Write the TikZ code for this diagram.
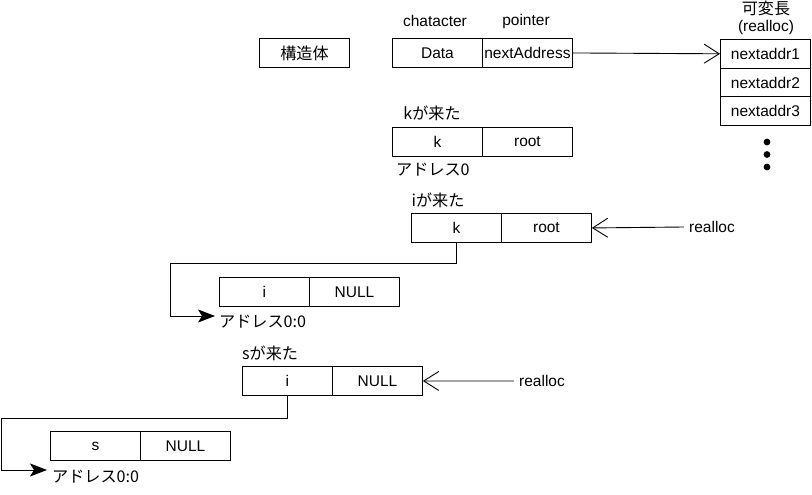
\documentclass[tikz,border=0pt]{standalone}
\usepackage{fontspec}
\setmainfont{Liberation Sans}
\newfontfamily\jp{Noto Sans CJK JP}[Scale=1.04]
\usetikzlibrary{arrows.meta}
\begin{document}
\begin{tikzpicture}[x=1pt,y=-1pt,
  font=\fontsize{15.5}{18}\selectfont,
  cell/.style={draw, line width=0.9pt, minimum width=90pt, minimum height=29pt, inner sep=0pt, anchor=north west},
  tcell/.style={cell, minimum height=28.7pt},
  lbl/.style={inner sep=0pt},
  openarrow/.style={line width=0.9pt, -{Straight Barb[length=15pt,width=19pt]}},
  filledarrow/.style={line width=0.9pt, -{Stealth[length=17pt,width=13pt,inset=4pt]}},
  elbow/.style={line width=0.9pt}
]
\useasboundingbox (0,0) rectangle (812,495);

% header
\node[cell] (s0) at (259,38) {\jp 構造体};
\node[cell] (d0) at (392,38) {Data};
\node[cell] (p0) at (482,38) {nextAddress};
\node[lbl] (lc) at (435,21) {chatacter};
\node[lbl] (lp) at (526,21) {pointer};

% variable-length array
\node[lbl, align=center] (vl) at (766,18) {\jp 可変長\\[-1pt](realloc)};
\node[tcell] (n1) at (720,39) {nextaddr1};
\node[tcell] (n2) at (720,67.7) {nextaddr2};
\node[tcell] (n3) at (720,96.4) {nextaddr3};
\fill (767,142) circle (3.4pt);
\fill (767,154.5) circle (3.4pt);
\fill (767,167) circle (3.4pt);
\draw[openarrow] (p0.east) -- (n1.west);

% k came
\node[lbl] (tk) at (432,113) {\jp kが来た};
\node[cell] (kc) at (392,127) {k};
\node[cell] (kr) at (482,127) {root};
\node[lbl, anchor=west] (ka) at (396,170) {\jp アドレス0};

% i came
\node[lbl] (ti) at (438,200) {\jp iが来た};
\node[cell] (ic) at (411,213) {k};
\node[cell] (ir) at (501,213) {root};
\node[lbl, anchor=west] (r1) at (689,227) {realloc};
\draw[openarrow] ([xshift=-5pt]r1.west) -- (ir.east);
\node[cell] (inc) at (219,277) {i};
\node[cell] (inn) at (309,277) {NULL};
\node[lbl, anchor=west] (a1) at (219,322) {\jp アドレス0:0};
\coordinate (e1) at (215,316);
\draw[filledarrow] (ic.south) |- (170,263) |- (e1);

% s came
\node[lbl, anchor=west] (ts) at (242,353) {\jp sが来た};
\node[cell] (sc) at (242,366) {i};
\node[cell] (sn) at (332,366) {NULL};
\node[lbl, anchor=west] (r2) at (519,381) {realloc};
\draw[openarrow] ([xshift=-5pt]r2.west) -- (sn.east);
\node[cell] (ssc) at (50,431) {s};
\node[cell] (ssn) at (140,431) {NULL};
\node[lbl, anchor=west] (a2) at (52,477) {\jp アドレス0:0};
\coordinate (e2) at (47,470);
\draw[filledarrow] (sc.south) |- (1,418) |- (e2);
\end{tikzpicture}
\end{document}
